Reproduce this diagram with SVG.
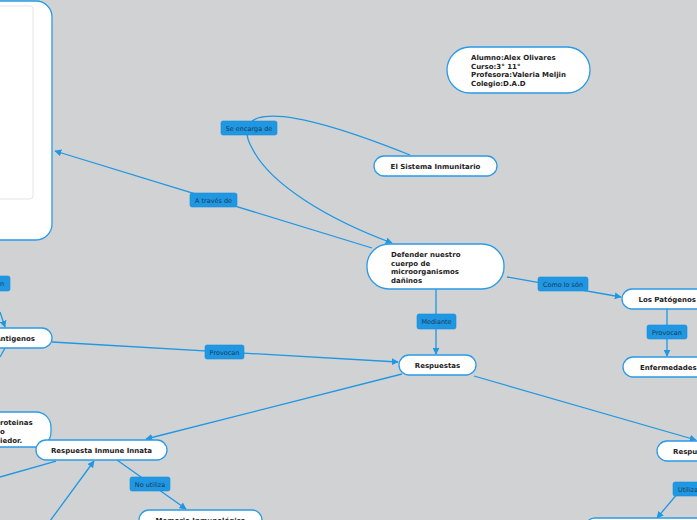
<svg xmlns="http://www.w3.org/2000/svg" width="697" height="520" viewBox="0 0 697 520">
<defs>
<style>
.node{fill:#ffffff;stroke:#2a9be6;stroke-width:1.3}
.nt{font-family:"DejaVu Sans",Verdana,sans-serif;font-weight:bold;font-size:7px;fill:#222222}
.lab{fill:#1f97e2;stroke:#1a8fd8;stroke-width:0.6}
.lt{font-family:"DejaVu Sans",Verdana,sans-serif;font-size:6.5px;fill:#1c3a56}
.con{fill:none;stroke:#1f97e2;stroke-width:1.3}
</style>
<marker id="arr" viewBox="0 0 10 10" refX="9" refY="5" markerWidth="7" markerHeight="7" markerUnits="userSpaceOnUse" orient="auto">
<path d="M0,0 L10,5 L0,10 Z" fill="#1f97e2"/>
</marker>
</defs>
<rect x="0" y="0" width="697" height="520" fill="#d1d2d4"/>

<g id="connectors">
<path class="con" d="M410,155 C375,141 290,108 258,118 C244,123 245,136 252,148 C270,185 330,220 392,243" marker-end="url(#arr)"/>
<path class="con" d="M372,248 L55,151" marker-end="url(#arr)"/>
<path class="con" d="M507,277 L621,297" marker-end="url(#arr)"/>
<path class="con" d="M667,309 L667,356" marker-end="url(#arr)"/>
<path class="con" d="M436,289 L436,354" marker-end="url(#arr)"/>
<path class="con" d="M52,342 L398,362" marker-end="url(#arr)"/>
<path class="con" d="M402,374 L146,439" marker-end="url(#arr)"/>
<path class="con" d="M474,376 L696,440" marker-end="url(#arr)"/>
<path class="con" d="M117,460 L186,509" marker-end="url(#arr)"/>
<path class="con" d="M56,461 L0,477"/>
<path class="con" d="M50,521 L94,461" marker-end="url(#arr)"/>
<path class="con" d="M0,312 L5,327" marker-end="url(#arr)"/>
<path class="con" d="M5,348 L0,357"/>
<path class="con" d="M678,493 L657,518" marker-end="url(#arr)"/>
</g>

<g id="label-se-encarga">
<rect class="lab" x="221" y="121" width="56" height="14" rx="2"/>
<text class="lt" x="249" y="130.5" text-anchor="middle">Se encarga de</text>
</g>
<g id="label-a-traves">
<rect class="lab" x="190" y="193" width="47" height="14" rx="2"/>
<text class="lt" x="213.5" y="202.5" text-anchor="middle">A través de</text>
</g>
<g id="label-como">
<rect class="lab" x="538" y="277" width="50" height="14" rx="2"/>
<text class="lt" x="563" y="286.5" text-anchor="middle">Como lo són</text>
</g>
<g id="label-provocan-r">
<rect class="lab" x="647" y="325" width="40" height="14" rx="2"/>
<text class="lt" x="667" y="334.5" text-anchor="middle">Provocan</text>
</g>
<g id="label-mediante">
<rect class="lab" x="417" y="314" width="39" height="15" rx="2"/>
<text class="lt" x="436.5" y="324" text-anchor="middle">Mediante</text>
</g>
<g id="label-provocan-l">
<rect class="lab" x="205" y="345" width="39" height="14" rx="2"/>
<text class="lt" x="224.5" y="354.5" text-anchor="middle">Provocan</text>
</g>
<g id="label-no-utiliza">
<rect class="lab" x="130" y="477" width="40" height="14" rx="2"/>
<text class="lt" x="150" y="486.5" text-anchor="middle">No utiliza</text>
</g>
<g id="label-left">
<rect class="lab" x="-30" y="276" width="40" height="15" rx="2"/>
<text class="lt" x="0" y="286">n</text>
</g>
<g id="label-utilizan">
<rect class="lab" x="673" y="482" width="40" height="14" rx="2"/>
<text class="lt" x="678" y="491.5">Utilizan</text>
</g>

<g id="node-bigbox">
<rect class="node" x="-20" y="1" width="72" height="239" rx="16"/>
<rect x="-10" y="6" width="43" height="193" rx="3" fill="#ffffff" stroke="#e4e4e4" stroke-width="1"/>
</g>
<g id="node-info">
<rect class="node" x="447" y="47" width="143" height="46" rx="23"/>
<text class="nt" x="471" y="60">Alumno:Alex Olivares</text>
<text class="nt" x="471" y="68.7">Curso:3° 11°</text>
<text class="nt" x="471" y="77.2">Profesora:Valeria Meljin</text>
<text class="nt" x="471" y="85.8">Colegio:D.A.D</text>
</g>
<g id="node-sistema">
<rect class="node" x="374" y="156" width="123" height="20" rx="10"/>
<text class="nt" x="435.5" y="168.5" text-anchor="middle">El Sistema Inmunitario</text>
</g>
<g id="node-defender">
<rect class="node" x="367" y="244" width="137" height="45" rx="22"/>
<text class="nt" x="391" y="257">Defender nuestro</text>
<text class="nt" x="391" y="265.7">cuerpo de</text>
<text class="nt" x="391" y="274.3">microorganismos</text>
<text class="nt" x="391" y="283">dañinos</text>
</g>
<g id="node-patogenos">
<rect class="node" x="622" y="289" width="100" height="20" rx="10"/>
<text class="nt" x="638.5" y="301.5">Los Patógenos</text>
</g>
<g id="node-enfermedades">
<rect class="node" x="623" y="357" width="100" height="20" rx="10"/>
<text class="nt" x="640" y="369.5">Enfermedades</text>
</g>
<g id="node-respuestas">
<rect class="node" x="399" y="355" width="77" height="20" rx="10"/>
<text class="nt" x="437.5" y="367.5" text-anchor="middle">Respuestas</text>
</g>
<g id="node-antigenos">
<rect class="node" x="-30" y="328" width="82" height="20" rx="10"/>
<text class="nt" x="35" y="340.5" text-anchor="end">Antigenos</text>
</g>
<g id="node-proteinas">
<rect class="node" x="-40" y="412" width="91" height="35" rx="15"/>
<text class="nt" x="0" y="425.3">roteinas</text>
<text class="nt" x="0" y="433.8">o</text>
<text class="nt" x="0" y="442.5">iedor.</text>
</g>
<g id="node-innata">
<rect class="node" x="36" y="440" width="131" height="20" rx="10"/>
<text class="nt" x="101.5" y="452.5" text-anchor="middle">Respuesta Inmune Innata</text>
</g>
<g id="node-memoria">
<rect class="node" x="139" y="510" width="123" height="20" rx="10"/>
<text class="nt" x="200.5" y="522.5" text-anchor="middle">Memoria Inmunológica</text>
</g>
<g id="node-respuesta-r">
<rect class="node" x="657" y="441" width="80" height="20" rx="10"/>
<text class="nt" x="673" y="453.5">Respuesta</text>
</g>
<g id="node-bottom-r">
<rect class="node" x="585" y="518" width="150" height="20" rx="10"/>
</g>
</svg>
